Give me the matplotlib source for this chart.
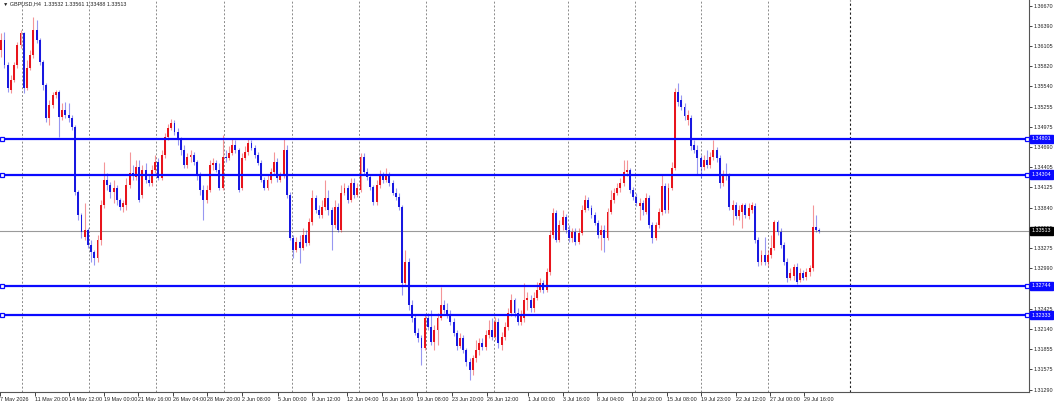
import numpy as np
import matplotlib
matplotlib.use("Agg")
import matplotlib.pyplot as plt
import matplotlib.transforms as mtransforms

plt.rcParams['font.family'] = ['Liberation Sans', 'DejaVu Sans']

# GBPUSD H4 candles (open, high, low, close)
opens = [
    1.3605, 1.3619, 1.3584, 1.3549, 1.3563, 1.3584, 1.3612, 1.3629, 1.3552, 1.3580,
    1.3598, 1.3633, 1.3619, 1.3588, 1.3556, 1.3510, 1.3528, 1.3542, 1.3546, 1.3511,
    1.3521, 1.3514, 1.3510, 1.3497, 1.3406, 1.3374, 1.3343, 1.3353, 1.3332, 1.3322,
    1.3314, 1.3339, 1.3388, 1.3423, 1.3416, 1.3406, 1.3412, 1.3395, 1.3385, 1.3388,
    1.3416, 1.3433, 1.3427, 1.3441, 1.3402, 1.3437, 1.3423, 1.3419, 1.3437, 1.3448,
    1.3426, 1.3458, 1.3483, 1.3496, 1.3503, 1.3490, 1.3479, 1.3465, 1.3444, 1.3455,
    1.3458, 1.3448, 1.3430, 1.3409, 1.3395, 1.3409, 1.3444, 1.3447, 1.3437, 1.3412,
    1.3455, 1.3454, 1.3461, 1.3472, 1.3465, 1.3412, 1.3454, 1.3462, 1.3475, 1.3468,
    1.3458, 1.3447, 1.3423, 1.3412, 1.3423, 1.3434, 1.3448, 1.3423, 1.3429, 1.3465,
    1.3402, 1.3342, 1.3325, 1.3336, 1.3328, 1.3346, 1.3335, 1.3364, 1.3398, 1.3381,
    1.3374, 1.3385, 1.3398, 1.3381, 1.3360, 1.3385, 1.3353, 1.3405, 1.3412, 1.3395,
    1.3419, 1.3402, 1.3409, 1.3455, 1.3434, 1.3427, 1.3413, 1.3392, 1.3416, 1.3430,
    1.3423, 1.3430, 1.3419, 1.3405, 1.3399, 1.3385, 1.3279, 1.3308, 1.3248, 1.3230,
    1.3209, 1.3202, 1.3188, 1.3230, 1.3217, 1.3196, 1.3213, 1.3230, 1.3248, 1.3241,
    1.3234, 1.3224, 1.3209, 1.3191, 1.3202, 1.3185, 1.3168, 1.3157, 1.3174, 1.3185,
    1.3195, 1.3189, 1.3206, 1.3213, 1.3203, 1.3224, 1.3192, 1.3203, 1.3217, 1.3237,
    1.3255, 1.3237, 1.3224, 1.3230, 1.3255, 1.3255, 1.3244, 1.3258, 1.3269, 1.3279,
    1.3269, 1.3294, 1.3346, 1.3377, 1.3339, 1.3360, 1.3371, 1.3353, 1.3342, 1.3350,
    1.3336, 1.3349, 1.3381, 1.3395, 1.3384, 1.3374, 1.3363, 1.3346, 1.3353, 1.3342,
    1.3378, 1.3395, 1.3405, 1.3412, 1.3419, 1.3434, 1.3437, 1.3409, 1.3399, 1.3387,
    1.3391, 1.3378, 1.3398, 1.3360, 1.3342, 1.3359, 1.3378, 1.3415, 1.3381, 1.3412,
    1.3440, 1.3546, 1.3535, 1.3525, 1.3507, 1.3510, 1.3471, 1.3465, 1.3454, 1.3441,
    1.3451, 1.3444, 1.3455, 1.3465, 1.3454, 1.3419, 1.3431, 1.3429, 1.3381, 1.3388,
    1.3373, 1.3378, 1.3387, 1.3373, 1.3381, 1.3387, 1.3339, 1.3308, 1.3318, 1.3308,
    1.3318, 1.3328, 1.3364, 1.3350, 1.3332, 1.3308, 1.3286, 1.3289, 1.3301, 1.3283,
    1.3293, 1.3287, 1.3294, 1.3300, 1.3357, 1.3353,
]
highs = [
    1.3629, 1.3630, 1.3588, 1.3570, 1.3588, 1.3616, 1.3633, 1.3630, 1.3591, 1.3605,
    1.3651, 1.3647, 1.3622, 1.3591, 1.3559, 1.3535, 1.3546, 1.3549, 1.3549, 1.3531,
    1.3532, 1.3531, 1.3514, 1.3500, 1.3409, 1.3377, 1.3391, 1.3356, 1.3339, 1.3325,
    1.3346, 1.3395, 1.3448, 1.3433, 1.3420, 1.3423, 1.3416, 1.3398, 1.3395, 1.3426,
    1.3462, 1.3444, 1.3451, 1.3451, 1.3444, 1.3447, 1.3430, 1.3444, 1.3458, 1.3454,
    1.3465, 1.3489, 1.3501, 1.3508, 1.3507, 1.3496, 1.3483, 1.3472, 1.3461, 1.3465,
    1.3462, 1.3451, 1.3434, 1.3416, 1.3416, 1.3451, 1.3454, 1.3451, 1.3447, 1.3486,
    1.3465, 1.3471, 1.3482, 1.3479, 1.3468, 1.3461, 1.3471, 1.3482, 1.3479, 1.3472,
    1.3462, 1.3451, 1.3427, 1.3430, 1.3440, 1.3462, 1.3454, 1.3434, 1.3482, 1.3472,
    1.3406, 1.3346, 1.3343, 1.3346, 1.3356, 1.3353, 1.3370, 1.3409, 1.3402, 1.3388,
    1.3395, 1.3423, 1.3409, 1.3385, 1.3395, 1.3391, 1.3416, 1.3419, 1.3416, 1.3426,
    1.3426, 1.3419, 1.3461, 1.3461, 1.3440, 1.3430, 1.3416, 1.3423, 1.3437, 1.3434,
    1.3440, 1.3434, 1.3423, 1.3412, 1.3405, 1.3388, 1.3325, 1.3314, 1.3255, 1.3234,
    1.3216, 1.3206, 1.3234, 1.3237, 1.3241, 1.3220, 1.3237, 1.3273, 1.3255, 1.3251,
    1.3241, 1.3230, 1.3213, 1.3209, 1.3206, 1.3188, 1.3174, 1.3178, 1.3199, 1.3202,
    1.3202, 1.3213, 1.3227, 1.3230, 1.3231, 1.3230, 1.3210, 1.3224, 1.3244, 1.3263,
    1.3258, 1.3244, 1.3241, 1.3279, 1.3266, 1.3262, 1.3266, 1.3280, 1.3286, 1.3283,
    1.3300, 1.3353, 1.3384, 1.3381, 1.3367, 1.3381, 1.3375, 1.3360, 1.3356, 1.3356,
    1.3356, 1.3388, 1.3401, 1.3399, 1.3388, 1.3378, 1.3367, 1.3360, 1.3359, 1.3384,
    1.3409, 1.3412, 1.3419, 1.3426, 1.3451, 1.3451, 1.3440, 1.3413, 1.3405, 1.3398,
    1.3395, 1.3405, 1.3401, 1.3364, 1.3364, 1.3384, 1.3430, 1.3419, 1.3419, 1.3448,
    1.3552, 1.3559, 1.3542, 1.3531, 1.3521, 1.3514, 1.3479, 1.3472, 1.3458, 1.3458,
    1.3465, 1.3462, 1.3479, 1.3469, 1.3458, 1.3437, 1.3447, 1.3433, 1.3395, 1.3392,
    1.3388, 1.3391, 1.3391, 1.3391, 1.3392, 1.3391, 1.3343, 1.3325, 1.3343, 1.3325,
    1.3346, 1.3367, 1.3367, 1.3356, 1.3336, 1.3314, 1.3300, 1.3305, 1.3307, 1.3300,
    1.3297, 1.3300, 1.3304, 1.3388, 1.3374, 1.3356,
]
lows = [
    1.3595, 1.3580, 1.3546, 1.3545, 1.3560, 1.3580, 1.3608, 1.3545, 1.3549, 1.3577,
    1.3594, 1.3615, 1.3584, 1.3549, 1.3504, 1.3500, 1.3524, 1.3538, 1.3483, 1.3507,
    1.3510, 1.3504, 1.3493, 1.3402, 1.3367, 1.3342, 1.3339, 1.3328, 1.3308, 1.3304,
    1.3308, 1.3332, 1.3384, 1.3409, 1.3398, 1.3391, 1.3388, 1.3381, 1.3378, 1.3381,
    1.3412, 1.3423, 1.3423, 1.3392, 1.3398, 1.3419, 1.3415, 1.3415, 1.3433, 1.3423,
    1.3423, 1.3454, 1.3479, 1.3493, 1.3486, 1.3472, 1.3458, 1.3440, 1.3440, 1.3448,
    1.3444, 1.3423, 1.3402, 1.3367, 1.3391, 1.3406, 1.3437, 1.3434, 1.3409, 1.3409,
    1.3448, 1.3451, 1.3458, 1.3461, 1.3406, 1.3409, 1.3451, 1.3458, 1.3465, 1.3454,
    1.3444, 1.3420, 1.3409, 1.3409, 1.3419, 1.3430, 1.3420, 1.3420, 1.3426, 1.3398,
    1.3339, 1.3314, 1.3322, 1.3307, 1.3325, 1.3331, 1.3332, 1.3360, 1.3377, 1.3370,
    1.3370, 1.3381, 1.3374, 1.3325, 1.3356, 1.3350, 1.3350, 1.3402, 1.3391, 1.3392,
    1.3398, 1.3399, 1.3406, 1.3430, 1.3423, 1.3409, 1.3388, 1.3388, 1.3412, 1.3419,
    1.3420, 1.3415, 1.3401, 1.3395, 1.3381, 1.3262, 1.3276, 1.3241, 1.3224, 1.3206,
    1.3196, 1.3164, 1.3185, 1.3213, 1.3192, 1.3185, 1.3192, 1.3227, 1.3237, 1.3230,
    1.3220, 1.3205, 1.3185, 1.3188, 1.3181, 1.3163, 1.3143, 1.3150, 1.3168, 1.3178,
    1.3185, 1.3185, 1.3202, 1.3199, 1.3199, 1.3188, 1.3185, 1.3199, 1.3213, 1.3233,
    1.3231, 1.3220, 1.3220, 1.3224, 1.3241, 1.3238, 1.3238, 1.3255, 1.3266, 1.3265,
    1.3266, 1.3290, 1.3342, 1.3336, 1.3336, 1.3353, 1.3349, 1.3336, 1.3336, 1.3332,
    1.3333, 1.3346, 1.3378, 1.3381, 1.3370, 1.3360, 1.3342, 1.3325, 1.3322, 1.3339,
    1.3375, 1.3391, 1.3401, 1.3406, 1.3415, 1.3429, 1.3405, 1.3395, 1.3387, 1.3367,
    1.3374, 1.3375, 1.3356, 1.3335, 1.3339, 1.3356, 1.3374, 1.3377, 1.3377, 1.3409,
    1.3437, 1.3527, 1.3521, 1.3507, 1.3500, 1.3465, 1.3461, 1.3430, 1.3426, 1.3437,
    1.3440, 1.3440, 1.3451, 1.3448, 1.3412, 1.3415, 1.3423, 1.3381, 1.3360, 1.3368,
    1.3367, 1.3356, 1.3370, 1.3368, 1.3377, 1.3335, 1.3303, 1.3304, 1.3304, 1.3303,
    1.3314, 1.3325, 1.3346, 1.3328, 1.3304, 1.3280, 1.3282, 1.3283, 1.3277, 1.3280,
    1.3282, 1.3283, 1.3289, 1.3296, 1.3350, 1.3349,
]
closes = [
    1.3619, 1.3584, 1.3552, 1.3563, 1.3584, 1.3612, 1.3629, 1.3552, 1.3580, 1.3598,
    1.3633, 1.3619, 1.3588, 1.3556, 1.3510, 1.3528, 1.3542, 1.3546, 1.3511, 1.3521,
    1.3514, 1.3510, 1.3497, 1.3406, 1.3374, 1.3350, 1.3353, 1.3332, 1.3322, 1.3314,
    1.3339, 1.3388, 1.3423, 1.3416, 1.3406, 1.3412, 1.3395, 1.3385, 1.3391, 1.3416,
    1.3433, 1.3430, 1.3441, 1.3395, 1.3437, 1.3423, 1.3419, 1.3437, 1.3448, 1.3426,
    1.3458, 1.3483, 1.3496, 1.3503, 1.3490, 1.3479, 1.3465, 1.3444, 1.3455, 1.3458,
    1.3448, 1.3430, 1.3409, 1.3395, 1.3409, 1.3444, 1.3447, 1.3437, 1.3412, 1.3455,
    1.3454, 1.3461, 1.3472, 1.3465, 1.3409, 1.3454, 1.3462, 1.3475, 1.3468, 1.3458,
    1.3447, 1.3423, 1.3412, 1.3423, 1.3434, 1.3448, 1.3426, 1.3429, 1.3465, 1.3402,
    1.3342, 1.3325, 1.3336, 1.3328, 1.3346, 1.3335, 1.3364, 1.3398, 1.3381, 1.3374,
    1.3385, 1.3398, 1.3381, 1.3360, 1.3385, 1.3353, 1.3405, 1.3412, 1.3395, 1.3419,
    1.3402, 1.3412, 1.3455, 1.3434, 1.3427, 1.3413, 1.3392, 1.3416, 1.3430, 1.3423,
    1.3430, 1.3419, 1.3405, 1.3399, 1.3385, 1.3279, 1.3308, 1.3248, 1.3230, 1.3209,
    1.3202, 1.3188, 1.3230, 1.3217, 1.3196, 1.3213, 1.3230, 1.3248, 1.3241, 1.3234,
    1.3224, 1.3209, 1.3191, 1.3202, 1.3185, 1.3168, 1.3157, 1.3174, 1.3185, 1.3195,
    1.3189, 1.3206, 1.3213, 1.3203, 1.3224, 1.3195, 1.3203, 1.3217, 1.3237, 1.3255,
    1.3237, 1.3224, 1.3233, 1.3255, 1.3258, 1.3244, 1.3258, 1.3269, 1.3279, 1.3269,
    1.3294, 1.3346, 1.3377, 1.3339, 1.3360, 1.3371, 1.3353, 1.3342, 1.3350, 1.3336,
    1.3349, 1.3381, 1.3395, 1.3384, 1.3374, 1.3363, 1.3346, 1.3353, 1.3342, 1.3378,
    1.3395, 1.3405, 1.3412, 1.3419, 1.3434, 1.3437, 1.3409, 1.3399, 1.3391, 1.3391,
    1.3381, 1.3398, 1.3360, 1.3342, 1.3359, 1.3378, 1.3415, 1.3381, 1.3412, 1.3440,
    1.3546, 1.3532, 1.3525, 1.3513, 1.3514, 1.3471, 1.3465, 1.3454, 1.3441, 1.3451,
    1.3444, 1.3455, 1.3465, 1.3454, 1.3419, 1.3431, 1.3429, 1.3385, 1.3388, 1.3373,
    1.3381, 1.3387, 1.3374, 1.3384, 1.3387, 1.3339, 1.3308, 1.3318, 1.3308, 1.3318,
    1.3328, 1.3364, 1.3350, 1.3332, 1.3308, 1.3286, 1.3293, 1.3301, 1.3280, 1.3293,
    1.3286, 1.3294, 1.3300, 1.3357, 1.3353, 1.3351,
]

levels = [1.34801, 1.34304, 1.32744, 1.32333]
level_labels = ["1.34801", "1.34304", "1.32744", "1.32333"]
last_price = 1.33513
last_label = "1.33513"

ytick_vals = [1.36670, 1.36390, 1.36105, 1.35820, 1.35540, 1.35255, 1.34975, 1.34690,
              1.34405, 1.34125, 1.33840, 1.33555, 1.33275, 1.32990, 1.32705, 1.32425,
              1.32140, 1.31855, 1.31575, 1.31290]
ytick_labels = ["%.5f" % v for v in ytick_vals]

date_labels = ["7 May 2026", "11 May 20:00", "14 May 12:00", "19 May 00:00", "21 May 16:00",
               "26 May 04:00", "28 May 20:00", "2 Jun 08:00", "5 Jun 00:00", "9 Jun 12:00",
               "12 Jun 04:00", "16 Jun 16:00", "19 Jun 08:00", "23 Jun 20:00", "26 Jun 12:00",
               "1 Jul 00:00", "3 Jul 16:00", "8 Jul 04:00", "10 Jul 20:00", "15 Jul 08:00",
               "19 Jul 23:00", "22 Jul 12:00", "27 Jul 00:00", "29 Jul 16:00"]
# bar index where each date label sits
date_pos = [-0.4, 10.5, 21.1, 32.0, 42.6, 53.5, 64.1, 75.0, 86.3, 96.9, 107.8, 118.7,
            129.6, 140.5, 151.4, 164.2, 175.1, 185.7, 196.6, 207.5, 218.1, 229.0, 239.6, 250.2]
# vertical separators (bar index)
vgrid_pos = [6.5, 27.3, 48.2, 69.4, 90.6, 111.5, 132.4, 153.6, 176.7, 197.5, 218.1, 239.0]
shift_pos = 264.6

n = len(closes)
assert len(opens) == n and len(highs) == n and len(lows) == n
x = np.arange(n)
o = np.array(opens); h = np.array(highs); l = np.array(lows); c = np.array(closes)

BULL = "#e8141c"
BEAR = "#1818e0"
LINE = "#0a0aff"
FS = 3.9

fig = plt.figure(figsize=(10.54, 4.01), dpi=100)
ax = fig.add_axes([0.0, 9 / 401, 1029 / 1054, 392 / 401])

xmin, xmax = -0.4, 320.4
ymin, ymax = 1.31259, 1.36747

for gx in vgrid_pos:
    ax.axvline(gx, color="#8a8a8a", lw=0.7, ls=(0, (2, 2)), zorder=0)
ax.axvline(shift_pos, color="#202020", lw=0.8, ls=(0, (2, 2)), zorder=0)

up = c > o
cols = np.where(up, BULL, BEAR)
ax.vlines(x, l, h, colors=cols, lw=0.8, alpha=0.45, zorder=2)
body_lo = np.minimum(o, c)
body_h = np.maximum(np.abs(c - o), 0.00005)
ax.bar(x, body_h, bottom=body_lo, width=0.6, color=cols, linewidth=0, zorder=3)

ax.axhline(last_price, color="#9a9a9a", lw=0.8, zorder=1)
for lv in levels:
    ax.axhline(lv, color=LINE, lw=1.6, zorder=4)
    ax.plot([0.3, xmax - 0.5], [lv, lv], ls="none", marker="s", ms=3,
            mfc="white", mec=LINE, mew=0.9, zorder=5, clip_on=False)

ax.set_xlim(xmin, xmax)
ax.set_ylim(ymin, ymax)

ax.yaxis.tick_right()
ax.set_yticks(ytick_vals)
ax.set_yticklabels(ytick_labels)
ax.tick_params(axis="y", direction="out", length=2, width=0.6, pad=1,
               labelsize=FS, colors="#222222")
ax.set_xticks(date_pos)
ax.set_xticklabels(date_labels, ha="left")
ax.tick_params(axis="x", direction="out", length=3, width=0.6, pad=0.5,
               labelsize=FS, colors="#222222")

for side in ["top", "left"]:
    ax.spines[side].set_visible(False)
for side in ["right", "bottom"]:
    ax.spines[side].set_color("#555555")
    ax.spines[side].set_linewidth(0.8)

trans = mtransforms.blended_transform_factory(ax.transAxes, ax.transData)
for lv, lab in zip(levels, level_labels):
    ax.text(1.0025, lv, lab, transform=trans, fontsize=FS, color="white",
            va="center", ha="left", zorder=10, clip_on=False,
            bbox=dict(boxstyle="square,pad=0.3", fc=LINE, ec=LINE))
ax.text(1.0025, last_price, last_label, transform=trans, fontsize=FS, color="white",
        va="center", ha="left", zorder=10, clip_on=False,
        bbox=dict(boxstyle="square,pad=0.3", fc="black", ec="black"))

ax.text(0.003, 0.998, "\u25bc GBPUSD,H4  1.33532 1.33561 1.33488 1.33513",
        transform=ax.transAxes, fontsize=FS, va="top", ha="left", color="#222222")

fig.savefig("out.png", dpi=100, facecolor="white")
